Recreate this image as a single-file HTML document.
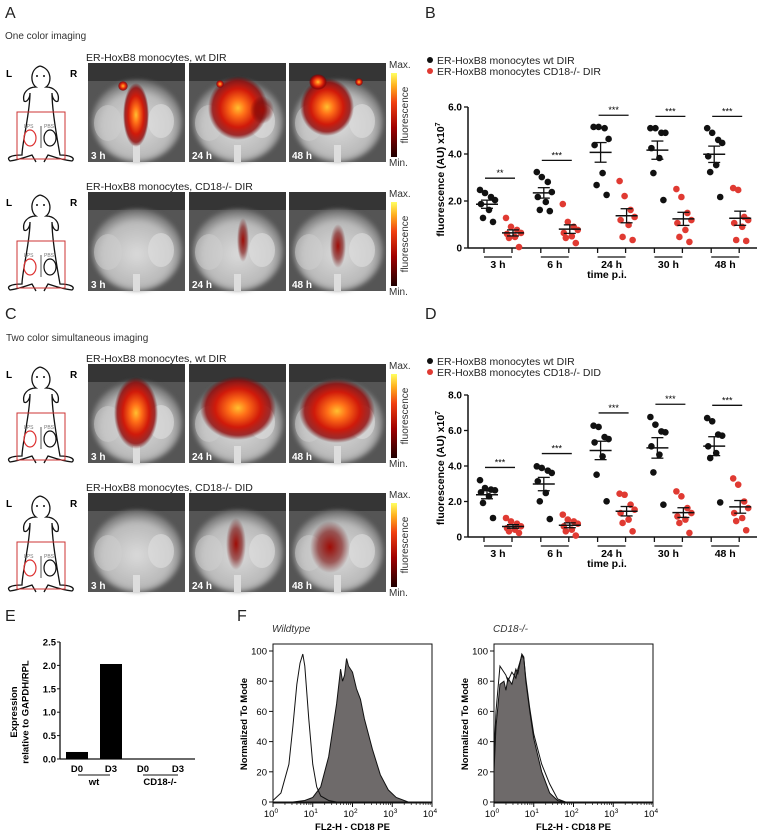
<!DOCTYPE html>
<html><head><meta charset="utf-8"><style>
body{margin:0;background:#fff;}
svg{display:block;font-family:"Liberation Sans",Arial,sans-serif;}
</style></head><body>
<svg id="fig" width="758" height="835" viewBox="0 0 758 835" xmlns="http://www.w3.org/2000/svg">
<defs>
<radialGradient id="heat" cx="50%" cy="50%" r="50%">
<stop offset="0" stop-color="#ffc030"/><stop offset="0.25" stop-color="#ff7018"/><stop offset="0.6" stop-color="#d01a0a"/><stop offset="0.85" stop-color="#900404" stop-opacity="0.8"/><stop offset="1" stop-color="#600" stop-opacity="0"/>
</radialGradient>
<radialGradient id="heatweak" cx="50%" cy="50%" r="50%">
<stop offset="0" stop-color="#a00c06"/><stop offset="0.6" stop-color="#7a0806" stop-opacity="0.6"/><stop offset="1" stop-color="#600" stop-opacity="0"/>
</radialGradient>
<radialGradient id="body" cx="50%" cy="55%" r="55%">
<stop offset="0" stop-color="#dadada"/><stop offset="0.7" stop-color="#bababa"/><stop offset="1" stop-color="#666"/>
</radialGradient>
<linearGradient id="cbar" x1="0" y1="1" x2="0" y2="0">
<stop offset="0" stop-color="#200000"/><stop offset="0.35" stop-color="#a00000"/><stop offset="0.65" stop-color="#f04010"/><stop offset="0.85" stop-color="#ffb020"/><stop offset="1" stop-color="#ffff60"/>
</linearGradient>
<filter id="blur"><feGaussianBlur stdDeviation="2"/></filter>
</defs>
<g id="panels"></g>
<g id="chartB"></g>
<g id="chartD"></g>
<g id="chartE"></g>
<g id="chartF"></g>
</svg>
<script>
// ---- chart data ----
const groups = ["3 h","6 h","24 h","30 h","48 h"];
const bWt = [[2.47,2.34,2.17,2.04,1.87,1.62,1.28,1.11],[3.23,3.02,2.81,2.38,2.17,1.96,1.62,1.57],[5.15,5.15,5.1,4.64,4.38,3.19,2.68,2.26],[5.1,5.1,4.9,4.9,4.25,3.83,3.19,2.04],[5.1,4.9,4.6,4.47,3.9,3.53,3.23,2.17]];
const bKo = [[1.28,0.9,0.77,0.64,0.6,0.47,0.43,0.04],[1.87,1.11,0.9,0.77,0.64,0.5,0.43,0.21],[2.85,2.21,1.62,1.32,1.19,0.98,0.47,0.34],[2.51,2.17,1.49,1.19,1.06,0.77,0.47,0.26],[2.55,2.47,1.32,1.19,1.06,0.9,0.34,0.3]];
const bStars = ["**","***","***","***","***"];
const bTicks = [0,2,4,6];
const bTickLabels = ["0","2.0","4.0","6.0"];
const dWt = [[3.2,2.76,2.67,2.63,2.52,2.29,1.92,1.07],[3.98,3.89,3.74,3.61,3.14,2.48,2.01,1.01],[6.27,6.2,5.63,5.52,5.33,4.54,3.51,2.01],[6.76,6.33,5.95,5.9,5.11,4.64,3.64,1.82],[6.7,6.52,5.77,5.71,5.11,4.73,4.45,1.95]];
const dKo = [[1.07,0.88,0.75,0.6,0.5,0.41,0.32,0.23],[1.26,0.98,0.88,0.75,0.6,0.41,0.32,0.08],[2.44,2.38,1.82,1.54,1.35,0.98,0.79,0.32],[2.57,2.29,1.63,1.35,1.16,0.98,0.79,0.23],[3.3,2.95,2.0,1.63,1.35,1.07,0.9,0.38]];
const dStars = ["***","***","***","***","***"];
const dTicks = [0,2,4,6,8];
const dTickLabels = ["0","2.0","4.0","6.0","8.0"];
const eCats = ["D0","D3","D0","D3"];
const eVals = [0.15,2.03,0,0];
const eTicks = [0,0.5,1,1.5,2,2.5];
const eTickLabels = ["0.0","0.5","1.0","1.5","2.0","2.5"];
const fWtOpenX = [0,0.2,0.4,0.5,0.6,0.68,0.75,0.8,0.9,1.0,1.1,1.2,1.4,1.6,4];
const fWtOpenY = [1,6,25,50,78,92,98,90,55,25,10,4,1,0,0];
const fWtFillX = [0,0.5,0.8,1.0,1.2,1.4,1.6,1.7,1.75,1.8,1.85,1.9,2.0,2.1,2.2,2.3,2.5,2.7,2.9,3.1,3.4,4];
const fWtFillY = [0,0,1,3,10,30,65,88,80,84,95,90,86,75,68,55,35,18,8,3,0,0];
const fKoOpenX = [0,0.05,0.15,0.2,0.3,0.35,0.45,0.55,0.6,0.7,0.75,0.8,0.9,1.0,1.2,1.4,1.6,1.8,4];
const fKoOpenY = [30,60,90,88,84,80,86,82,88,97,95,82,62,45,25,12,2,0,0];
const fKoFillX = [0,0.05,0.15,0.25,0.3,0.35,0.45,0.55,0.6,0.7,0.75,0.8,0.9,1.0,1.2,1.4,1.6,1.8,4];
const fKoFillY = [20,50,78,80,74,82,78,88,85,98,96,80,60,42,20,6,1,0,0];
const fTicks = [0,20,40,60,80,100];

const NS="http://www.w3.org/2000/svg";
function mk(tag, attrs, parent){const e=document.createElementNS(NS,tag);for(const k in attrs)e.setAttribute(k,attrs[k]);parent.appendChild(e);return e;}
function txt(s, attrs, parent){const e=mk("text",attrs,parent);e.textContent=s;return e;}

// ---- imaging panels ----
const P=document.getElementById("panels");
function label(s,x,y){const t=txt(s,{x:x,y:y,"font-size":16,fill:"#222"},P);

}
label("A",5,18);label("B",425,18);label("C",5,319);label("D",425,319);label("E",5,621);label("F",237,621);
const s1=txt("One color imaging",{x:5,y:39,"font-size":10,fill:"#333"},P);


const s2=txt("Two color simultaneous imaging",{x:6,y:341,"font-size":10,fill:"#333"},P);



const rows=[
 {y:63,title:"ER-HoxB8 monocytes, wt DIR",blobs:[[[136,115,13,32,"heat"],[123,86,5,5,"heat"]],[[238,108,30,32,"heat"],[220,84,4,4,"heat"],[262,110,12,14,"heatweak"]],[[327,107,27,29,"heat"],[318,82,9,8,"heat"],[359,82,4,4,"heat"]]]},
 {y:192,title:"ER-HoxB8 monocytes, CD18-/- DIR",blobs:[[],[[243,240,6,22,"heatweak"]],[[338,246,8,22,"heatweak"]]]},
 {y:364,title:"ER-HoxB8 monocytes, wt DIR",blobs:[[[136,413,22,36,"heat"]],[[238,408,38,32,"heat"]],[[337,411,38,32,"heat"]]]},
 {y:493,title:"ER-HoxB8 monocytes, CD18-/- DID",blobs:[[],[[236,544,10,26,"heatweak"]],[[330,547,20,26,"heatweak"]]]}
];
const xs=[88,189,289], times=["3 h","24 h","48 h"];
rows.forEach((r,ri)=>{
 const g=mk("g",{},P);
 
 
 const tt=txt(r.title,{x:86,y:r.y-2,"font-size":10.5,fill:"#222"},g);
 
 
 const m=mk("g",{},g);
 
 
 const y0=r.y;
 txt("L",{x:6,y:y0+14,"font-size":10,"font-weight":"bold"},m);
 txt("R",{x:70,y:y0+14,"font-size":10,"font-weight":"bold"},m);
 mk("path",{d:`M40 ${y0+3} C30 ${y0+6} 30 ${y0+20} 36 ${y0+24} C28 ${y0+24} 22 ${y0+30} 24 ${y0+38} C26 ${y0+40} 30 ${y0+36} 30 ${y0+30} C30 ${y0+50} 22 ${y0+80} 22 ${y0+92} C10 ${y0+92} 6 ${y0+95} 10 ${y0+98} C18 ${y0+97} 26 ${y0+94} 32 ${y0+92} L36 ${y0+99} M44 ${y0+99} L48 ${y0+92} C54 ${y0+94} 62 ${y0+97} 72 ${y0+98} C76 ${y0+95} 70 ${y0+92} 60 ${y0+92} C58 ${y0+80} 52 ${y0+50} 52 ${y0+30} C52 ${y0+36} 56 ${y0+40} 58 ${y0+38} C60 ${y0+30} 54 ${y0+24} 46 ${y0+24} C52 ${y0+20} 52 ${y0+6} 40 ${y0+3}`,fill:"none",stroke:"#111","stroke-width":1.3},m);
 mk("circle",{cx:37,cy:y0+13,r:1,fill:"#111"},m);mk("circle",{cx:44,cy:y0+13,r:1,fill:"#111"},m);
 mk("rect",{x:17,y:y0+49,width:48,height:47,fill:"none",stroke:"#c33","stroke-width":1},m);
 mk("ellipse",{cx:30,cy:y0+75,rx:6,ry:8,fill:"none",stroke:"#d33","stroke-width":1.2},m);
 mk("ellipse",{cx:50,cy:y0+75,rx:6,ry:8,fill:"none",stroke:"#111","stroke-width":1.2},m);
 mk("rect",{x:40,y:y0+63,width:2,height:22,fill:"#aaa"},m);
 txt("LPS",{x:24,y:y0+65,"font-size":5,fill:"#777"},m);
 txt("PBS",{x:44,y:y0+65,"font-size":5,fill:"#777"},m);
 xs.forEach((x,i)=>{
  const im=mk("g",{},g);
  
  
  mk("rect",{x:x,y:y0,width:97,height:99,fill:"#555"},im);
  mk("rect",{x:x,y:y0,width:97,height:18,fill:"#353535"},im);
  mk("ellipse",{cx:x+49,cy:y0+58,rx:45,ry:41,fill:"url(#body)",filter:"url(#blur)"},im);
  mk("ellipse",{cx:x+20,cy:y0+60,rx:14,ry:18,fill:"#cfcfcf",opacity:0.5},im);
  mk("ellipse",{cx:x+73,cy:y0+58,rx:13,ry:17,fill:"#e0e0e0",opacity:0.6},im);
  mk("rect",{x:x+45,y:y0+82,width:7,height:17,fill:"#ddd"},im);
  r.blobs[i].forEach(b=>{mk("ellipse",{cx:b[0],cy:b[1],rx:b[2],ry:b[3],fill:"url(#"+b[4]+")"},im);});
  txt(times[i],{x:x+3,y:y0+96,"font-size":10,"font-weight":"bold",fill:"#fff"},im);
 });
 const cb=mk("g",{},g);
 
 
 mk("rect",{x:391,y:y0+10,width:6,height:84,fill:"url(#cbar)"},cb);
 txt("Max.",{x:389,y:y0+5,"font-size":10,fill:"#333"},cb);
 txt("Min.",{x:389,y:y0+103,"font-size":10,fill:"#333"},cb);
 txt("fluorescence",{x:0,y:0,"font-size":10,fill:"#333","text-anchor":"middle",transform:`translate(408,${y0+52}) rotate(-90)`},cb);
});

// ---- scatter charts ----
function scatter(gid, wt, ko, stars, ticks, tlabels, ymax, y0px, ytop, legendY, koName, sigOff){
 const G=document.getElementById(gid);
 const ax=468, ax2=757;
 const yS=v=>y0px-(y0px-ytop)*v/ymax;
 const xC=i=>498+i*56.8;
 [["ER-HoxB8 monocytes wt DIR","#111"],[koName,"#e03a32"]].forEach((l,i)=>{
  const lg=mk("g",{},G);
  
  
  mk("circle",{cx:430,cy:legendY+i*11,r:3,fill:l[1]},lg);
  txt(l[0],{x:437,y:legendY+i*11+4,"font-size":10.5,fill:"#222"},lg);
 });
 mk("line",{x1:ax,y1:ytop,x2:ax,y2:y0px,stroke:"#111","stroke-width":1.5},G);
 mk("line",{x1:ax,y1:y0px,x2:ax2,y2:y0px,stroke:"#111","stroke-width":1.5},G);
 ticks.forEach((t,i)=>{
  mk("line",{x1:ax-4,y1:yS(t),x2:ax,y2:yS(t),stroke:"#111","stroke-width":1.3},G);
  const tl=txt(tlabels[i],{x:ax-6,y:yS(t)+3.5,"font-size":10,"font-weight":"bold","text-anchor":"end"},G);
  
  
 });
 const yt=txt("",{x:0,y:0,"font-size":10.5,"font-weight":"bold","text-anchor":"middle",transform:`translate(444,${(ytop+y0px)/2+2}) rotate(-90)`},G);
 yt.innerHTML='fluorescence (AU) x10<tspan dy="-4" font-size="7">7</tspan>';
 
 
 const xt=txt("time p.i.",{x:607,y:y0px+30,"font-size":10.5,"font-weight":"bold","text-anchor":"middle"},G);
 
 
 groups.forEach((gname,i)=>{
  const c=xC(i);
  [c-14,c+14].forEach(x=>mk("line",{x1:x,y1:y0px,x2:x,y2:y0px+5,stroke:"#111","stroke-width":1.3},G));
  mk("line",{x1:c-14,y1:y0px+9,x2:c+14,y2:y0px+9,stroke:"#111","stroke-width":1.3},G);
  const gl=txt(gname,{x:c,y:y0px+20,"font-size":10.5,"font-weight":"bold","text-anchor":"middle"},G);
  
  
  [[wt[i],"#111",c-11],[ko[i],"#e03a32",c+15]].forEach((s,si)=>{
   const vals=s[0], n=vals.length;
   const mean=vals.reduce((a,b)=>a+b,0)/n;
   const sd=Math.sqrt(vals.reduce((a,b)=>a+(b-mean)*(b-mean),0)/(n-1));
   const sem=sd/Math.sqrt(n);
   vals.forEach((v,k)=>{
    const off=[-7,-2,4,8,-6,2,-4,6][k];
    const p=mk("circle",{cx:s[2]+off,cy:yS(v),r:3.3,fill:s[1]},G);
    
    
   });
   const eb=mk("g",{},G);
   
   
   mk("line",{x1:s[2]-11,y1:yS(mean),x2:s[2]+11,y2:yS(mean),stroke:"#111","stroke-width":1.5},eb);
   mk("line",{x1:s[2],y1:yS(mean+sem),x2:s[2],y2:yS(mean-sem),stroke:"#111","stroke-width":1.3},eb);
   mk("line",{x1:s[2]-6,y1:yS(mean+sem),x2:s[2]+6,y2:yS(mean+sem),stroke:"#111","stroke-width":1.3},eb);
   mk("line",{x1:s[2]-6,y1:yS(mean-sem),x2:s[2]+6,y2:yS(mean-sem),stroke:"#111","stroke-width":1.3},eb);
  });
  const sy=yS(Math.max(...wt[i])+sigOff);
  const sg=mk("g",{},G);
  
  
  mk("line",{x1:c-13,y1:sy,x2:c+17,y2:sy,stroke:"#111","stroke-width":1.3},sg);
  txt(stars[i],{x:c+2,y:sy-2,"font-size":9,"text-anchor":"middle"},sg);
 });
}
scatter("chartB",bWt,bKo,bStars,bTicks,bTickLabels,6,248,107,60,"ER-HoxB8 monocytes CD18-/- DIR",0.5);
scatter("chartD",dWt,dKo,dStars,dTicks,dTickLabels,8,537,395,361,"ER-HoxB8 monocytes CD18-/- DID",0.72);

// ---- chart E ----
(function(){
 const G=document.getElementById("chartE");
 const ax=60, y0=759, ytop=642;
 const yS=v=>y0-(y0-ytop)*v/2.5;
 const xC=[77,111,143,178];
 mk("line",{x1:ax,y1:ytop,x2:ax,y2:y0,stroke:"#111","stroke-width":1.3},G);
 mk("line",{x1:ax,y1:y0,x2:195,y2:y0,stroke:"#111","stroke-width":1.3},G);
 eTicks.forEach((t,i)=>{
  mk("line",{x1:ax-3,y1:yS(t),x2:ax,y2:yS(t),stroke:"#111"},G);
  const tl=txt(eTickLabels[i],{x:ax-4,y:yS(t)+3.5,"font-size":9.5,"font-weight":"bold","text-anchor":"end"},G);
  
  
 });
 eVals.forEach((v,i)=>{
  const b=mk("rect",{x:xC[i]-11,y:yS(v),width:22,height:y0-yS(v),fill:"#000"},G);
  
  
  const l=txt(eCats[i],{x:xC[i],y:772,"font-size":9.5,"font-weight":"bold","text-anchor":"middle"},G);
  
  
 });
 mk("line",{x1:78,y1:775,x2:110,y2:775,stroke:"#111"},G);
 mk("line",{x1:143,y1:775,x2:178,y2:775,stroke:"#111"},G);
 txt("wt",{x:94,y:785,"font-size":9.5,"font-weight":"bold","text-anchor":"middle"},G);
 txt("CD18-/-",{x:160,y:785,"font-size":9.5,"font-weight":"bold","text-anchor":"middle"},G);
 const t=txt("",{"font-size":9.5,"font-weight":"bold","text-anchor":"middle",transform:"translate(20,712) rotate(-90)"},G);
 t.innerHTML='<tspan x="0" dy="-3">Expression</tspan><tspan x="0" dy="11.5">relative to GAPDH/RPL</tspan>';
 
 
})();

// ---- chart F ----
function hist(G,bx,title,openX,openY,fillX,fillY){
 const by=644, bw=159, bh=159;
 const xS=l=>bx+l*bw/4;
 const yS=v=>by+bh-1-(v/100)*(bh-8);
 const tt=txt(title,{x:bx-1,y:632,"font-size":10,"font-style":"italic",fill:"#333"},G);
 
 
 let d="M"+xS(fillX[0])+" "+yS(0);
 fillX.forEach((x,i)=>{d+=" L"+xS(x)+" "+yS(fillY[i]);});
 d+=" L"+xS(fillX[fillX.length-1])+" "+yS(0)+" Z";
 const f=mk("path",{d:d,fill:"#6e6a6a",stroke:"#111","stroke-width":1},G);
 
 
 let d2="";
 openX.forEach((x,i)=>{d2+=(i?" L":"M")+xS(x)+" "+yS(openY[i]);});
 const o=mk("path",{d:d2,fill:"none",stroke:"#111","stroke-width":1},G);
 
 
 mk("rect",{x:bx,y:by,width:bw,height:bh,fill:"none",stroke:"#111","stroke-width":1},G);
 fTicks.forEach(t=>{
  mk("line",{x1:bx-4,y1:yS(t),x2:bx,y2:yS(t),stroke:"#111"},G);
  const l=txt(String(t),{x:bx-6,y:yS(t)+3.5,"font-size":9.5,"text-anchor":"end"},G);
  
  
 });
 for(let k=0;k<=4;k++){
  mk("line",{x1:xS(k),y1:by+bh,x2:xS(k),y2:by+bh+4,stroke:"#111"},G);
  const l=txt("",{x:xS(k)-2,y:by+bh+14,"font-size":9.5,"text-anchor":"middle"},G);
  l.innerHTML='10<tspan dy="-4" font-size="6.5">'+k+'</tspan>';
  
  
  if(k<4)for(let m=2;m<10;m++){const xm=xS(k+Math.log10(m));mk("line",{x1:xm,y1:by+bh,x2:xm,y2:by+bh+2,stroke:"#111","stroke-width":0.7},G);}
 }
 const xl=txt("FL2-H - CD18 PE",{x:bx+bw/2,y:830,"font-size":9.5,"font-weight":"bold","text-anchor":"middle"},G);
 
 
 const yl=txt("Normalized To Mode",{"font-size":9.5,"font-weight":"bold","text-anchor":"middle",transform:`translate(${bx-26},724) rotate(-90)`},G);
 
 
}
const FG=document.getElementById("chartF");
hist(FG,273,"Wildtype",fWtOpenX,fWtOpenY,fWtFillX,fWtFillY);
hist(FG,494,"CD18-/-",fKoOpenX,fKoOpenY,fKoFillX,fKoFillY);
</script>
</body></html>
